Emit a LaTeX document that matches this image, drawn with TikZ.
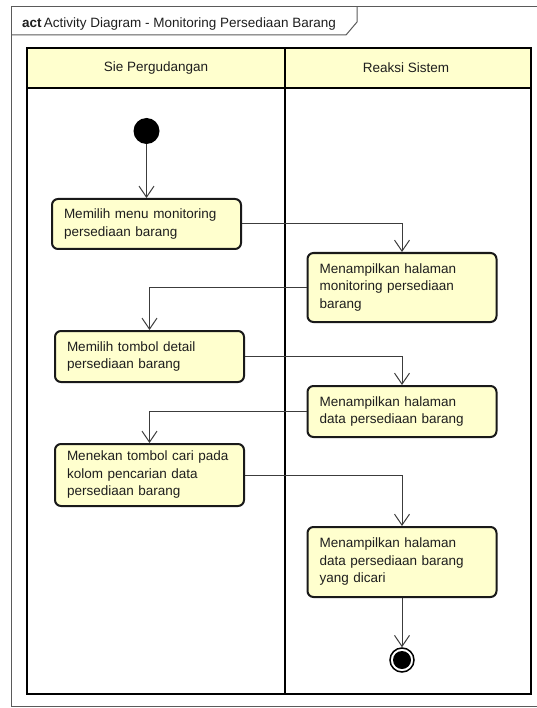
\documentclass[tikz,border=0pt]{standalone}
\usepackage{fontspec}
\setmainfont{Liberation Sans}
\usetikzlibrary{arrows.meta}
\definecolor{actfill}{RGB}{255,255,206}
\definecolor{linegray}{RGB}{60,60,60}
\definecolor{framegray}{RGB}{90,90,90}
\definecolor{txt}{RGB}{30,30,30}
\tikzset{
  actbox/.style={draw=black!90, line width=2pt, rounded corners=6pt, fill=actfill,
    text width=165pt, inner xsep=12pt, inner ysep=0pt, align=left, minimum width=189pt,
    font=\fontsize{13.5}{17.5}\selectfont, text=txt},
  flow/.style={draw=linegray, line width=1pt, -{Straight Barb[length=11pt,width=15pt,line width=1pt]}},
  lane/.style={draw=black, line width=2pt},
  headtxt/.style={font=\fontsize{13.5}{16}\selectfont, text=txt},
}
\begin{document}
\begin{tikzpicture}[x=1pt,y=-1pt]
\useasboundingbox (0,0) rectangle (537,708);
% outer frame
\draw[framegray, line width=1pt] (545,7) -- (11,7) -- (11,706) -- (545,706);
\draw[framegray, line width=1pt] (357,7) -- (357,22) -- (346,35) -- (11,35);
\node[anchor=base west, inner sep=0, font=\fontsize{13.5}{16}\selectfont, text=txt] (title) at (22,28)
  {\textbf{act}\,Activity Diagram - Monitoring Persediaan Barang};
% swimlanes
\fill[actfill] (27,48) rectangle (531,88);
\draw[lane] (27,48) rectangle (531,694);
\draw[lane] (27,88) -- (531,88);
\draw[lane] (285,48) -- (285,694);
\node[headtxt] (h1) at (156,68) {Sie Pergudangan};
\node[headtxt] (h2) at (406,68) {Reaksi Sistem};
% nodes
\node[circle, fill=black, minimum size=26pt, inner sep=0pt] (start) at (146.5,131) {};
\node[actbox, minimum height=50pt] (a1) at (146.5,224) {Memilih menu monitoring\\persediaan barang};
\node[actbox, minimum height=69pt] (a2) at (402,287.5) {Menampilkan halaman\\monitoring persediaan\\barang};
\node[actbox, minimum height=51pt] (a3) at (149.5,356.5) {Memilih tombol detail\\persediaan barang};
\node[actbox, minimum height=51pt] (a4) at (402,411.5) {Menampilkan halaman\\data persediaan barang};
\node[actbox, minimum height=62pt] (a5) at (149.5,475) {Menekan tombol cari pada\\kolom pencarian data\\persediaan barang};
\node[actbox, minimum height=70pt] (a6) at (402,562) {Menampilkan halaman\\data persediaan barang\\yang dicari};
\node[circle, draw=black, line width=1.5pt, fill=white, minimum size=24pt, inner sep=0pt] (end) at (402,660) {};
\fill[black] (end.center) circle (9);
% flows
\draw[flow] (start) -- (a1);
\draw[flow] (a1.east) -| (a2.north);
\draw[flow] (a2.west) -| (a3.north);
\draw[flow] (a3.east) -| (a4.north);
\draw[flow] (a4.west) -| (a5.north);
\draw[flow] (a5.east) -| (a6.north);
\draw[flow] (a6) -- (end);
\end{tikzpicture}
\end{document}
